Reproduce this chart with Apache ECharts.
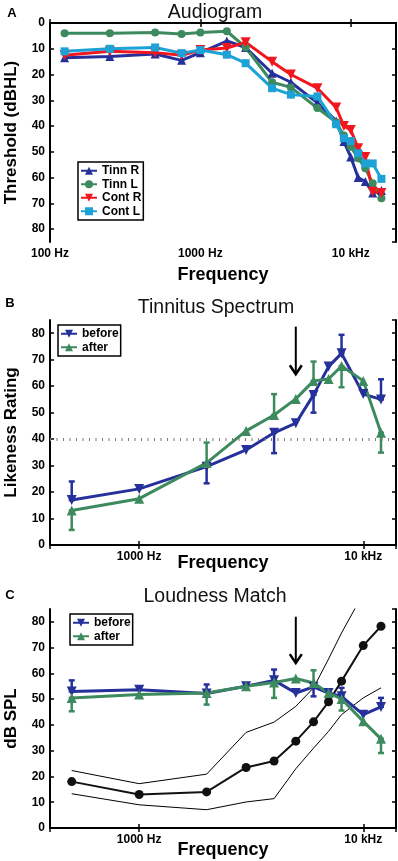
<!DOCTYPE html>
<html>
<head>
<meta charset="utf-8">
<script src="https://cdn.jsdelivr.net/npm/echarts@6/dist/echarts.min.js"></script>
<style>
html, body { margin: 0; padding: 0; background: #fff; }
#chart { width: 398px; height: 861px; }
</style>
</head>
<body>
<div id="chart"></div>
<script>
// --- panel A: audiogram (dB HL, 0 at top)
const audFreqs = [125, 250, 500, 750, 1000, 1500, 2000, 3000, 4000, 6000, 8000, 9000, 10000, 11200, 12500, 14000, 16000]
const tinnR = [13.5, 13, 12, 14.5, 11.5, 7, 9.5, 19.5, 23, 31, 38, 46, 52, 60, 61.5, 66, 65]
const tinnL = [4, 4, 3.7, 4.3, 3.7, 3.2, 9.5, 23, 25, 33, 38.5, 43.7, 48, 52.5, 56.4, 62.2, 68]
const contR = [12.5, 11, 11.5, 12.5, 10.5, 9.7, 7.5, 15, 20, 25.3, 32.8, 40, 41.5, 48.6, 52, 65.5, 66]
const contL = [11, 10, 9.5, 11.7, 10.5, 12.3, 15.6, 25.3, 27.8, 28.5, 39.3, 44.7, 45.8, 50.6, 54.5, 54.5, 60.5]

// --- panels B and C share the matching frequencies
const matchFreqs = [500, 1000, 2000, 3000, 4000, 5000, 6000, 7000, 8000, 10000, 12000]

// B: likeness rating
const specBefore = [17, 21.2, 29.6, 35.9, 42.4, 46, 56.7, 67.4, 72.4, 57, 55]
const specAfter = [13, 17.5, 31, 43.1, 49.1, 55.2, 62, 62.7, 67.6, 62, 42.4]
// error bars as [freq, low, high]
const specBeforeErr = [[500, 17, 24], [2000, 23.3, 29.6], [4000, 34.7, 42.4], [6000, 50, 56.7], [8000, 72.4, 79.4], [12000, 55, 62.6]]
const specAfterErr = [[500, 5.7, 13], [2000, 31, 38.7], [4000, 49.1, 57], [6000, 62, 69.3], [8000, 59.6, 67.6], [12000, 34.9, 42.4]]
const chanceLevel = 40

// C: loudness match (dB SPL)
const loudBefore = [53, 53.7, 52.2, 55, 57.3, 52.4, 54.8, 52.4, 51.1, 44, 47]
const loudAfter = [50.5, 51.8, 52.4, 55, 56.5, 58, 56.3, 52.4, 50.1, 41.4, 34.6]
const loudBeforeErr = [[500, 53, 57.3], [2000, 52.2, 55.7], [4000, 57.3, 61.5], [6000, 51.1, 54.8], [8000, 51.1, 54.4], [12000, 47, 50.5]]
const loudAfterErr = [[500, 45.3, 50.5], [2000, 47.9, 52.4], [4000, 50.5, 56.5], [6000, 56.3, 61.2], [8000, 45.6, 50.1], [12000, 29.1, 34.6]]
const threshold = [18, 13, 14, 23.5, 26, 33.7, 41.2, 49, 57, 70.8, 78.3]
const thresholdHi = [22.3, 17.2, 20.9, 37.1, 41.1, 47.2, 54.4, 65.6, 75.7, 91, null]
const thresholdLo = [13.3, 9, 7.1, 10.1, 11.4, 23, 31, 37.5, 44, 50.5, 54.4]

// arrow marking the tinnitus pitch: [freq, from, to]
const arrowB = [5000, 82.5, 64.5]
const arrowC = [5000, 82, 64]

// tick labels
const tickFreqs = [100, 1000, 10000]
const tickNames = ['100 Hz', '1000 Hz', '10 kHz']
const yTicks = [0, 10, 20, 30, 40, 50, 60, 70, 80]

const FONT = "'Liberation Sans', Arial, Helvetica, sans-serif"
const BLUE = '#25309b'
const GREEN = '#3d8a5e'
const RED = '#f2171f'
const CYAN = '#1ca2d6'

const chart = echarts.init(document.getElementById('chart'))

const zip = (xs, ys) => xs.map((x, i) => [x, ys[i]])

function freqLabel(v) {
    const i = tickFreqs.findIndex(f => Math.abs(v / f - 1) < 1e-6)
    return i < 0 ? '' : tickNames[i]
}

const grids = [
    { left: 50, top: 23, width: 346, height: 219 },
    { left: 50, top: 320, width: 346, height: 225 },
    { left: 50, top: 609, width: 346, height: 219 }
].map(g => ({ ...g, containLabel: false, outerBoundsMode: 'none' }))

const xRanges = [[100, 20000], [400, 14000], [400, 14000]]
const xNameGaps = [24, 9, 13]
const yNames = ['Threshold (dBHL)', 'Likeness Rating', 'dB SPL']

const xAxes = []
const yAxes = []
grids.forEach((g, i) => {
    const base = {
        type: 'log', logBase: 10, gridIndex: i,
        min: xRanges[i][0], max: xRanges[i][1],
        splitLine: { show: false },
        axisLine: { show: true, lineStyle: { color: '#000', width: 2 } },
        axisTick: { show: true, inside: true, length: 4, lineStyle: { color: '#000', width: 1.5 } }
    }
    xAxes.push({
        ...base,
        position: 'bottom',
        axisLabel: {
            formatter: freqLabel, color: '#000', fontWeight: 'bold', fontSize: 12,
            fontFamily: FONT, margin: 6, showMinLabel: true, showMaxLabel: false
        },
        name: 'Frequency', nameLocation: 'middle', nameGap: xNameGaps[i], nameMoveOverlap: false,
        nameTextStyle: { color: '#000', fontWeight: 'bold', fontSize: 18, fontFamily: FONT }
    })
    xAxes.push({ ...base, position: 'top', axisLabel: { show: false } })

    const ybase = {
        type: 'value', gridIndex: i, min: 0, max: 85, interval: 10,
        inverse: i === 0,
        splitLine: { show: false },
        axisLine: { show: true, lineStyle: { color: '#000', width: 2 } },
        axisTick: { show: true, inside: true, length: 4, lineStyle: { color: '#000', width: 1.5 } }
    }
    yAxes.push({
        ...ybase,
        position: 'left',
        axisLabel: {
            formatter: v => (yTicks.includes(v) ? String(v) : ''),
            color: '#000', fontWeight: 'bold', fontSize: 12, fontFamily: FONT, margin: 5,
            showMaxLabel: false
        },
        name: yNames[i], nameLocation: 'middle', nameGap: 30, nameRotate: 90, nameMoveOverlap: false,
        nameTextStyle: { color: '#000', fontWeight: 'bold', fontSize: 17, fontFamily: FONT }
    })
    yAxes.push({ ...ybase, position: 'right', axisLabel: { show: false } })
})

function lineSeries(name, panel, xs, ys, color, symbol, opts = {}) {
    return {
        type: 'line', name,
        xAxisIndex: panel * 2, yAxisIndex: panel * 2,
        data: zip(xs, ys),
        color,
        symbol, symbolSize: 9,
        lineStyle: { color, width: 3 },
        itemStyle: { color },
        ...opts
    }
}

// vertical error bars with small caps
function errSeries(panel, data, color) {
    return {
        type: 'custom', silent: true,
        xAxisIndex: panel * 2, yAxisIndex: panel * 2,
        data, encode: { x: 0, y: [1, 2] },
        z: 3,
        renderItem(params, api) {
            const lo = api.coord([api.value(0), api.value(1)])
            const hi = api.coord([api.value(0), api.value(2)])
            const w = 3
            const st = { stroke: color, lineWidth: 2.5 }
            return {
                type: 'group', children: [
                    { type: 'line', shape: { x1: lo[0], y1: lo[1], x2: hi[0], y2: hi[1] }, style: st },
                    { type: 'line', shape: { x1: lo[0] - w, y1: lo[1], x2: lo[0] + w, y2: lo[1] }, style: st },
                    { type: 'line', shape: { x1: hi[0] - w, y1: hi[1], x2: hi[0] + w, y2: hi[1] }, style: st }
                ]
            }
        }
    }
}

function arrowSeries(panel, arrow) {
    return {
        type: 'custom', silent: true,
        xAxisIndex: panel * 2, yAxisIndex: panel * 2,
        data: [arrow], encode: { x: 0, y: [1, 2] },
        z: 5,
        renderItem(params, api) {
            const a = api.coord([api.value(0), api.value(1)])
            const b = api.coord([api.value(0), api.value(2)])
            return {
                type: 'group', children: [
                    { type: 'line', shape: { x1: a[0], y1: a[1], x2: b[0], y2: b[1] - 1 }, style: { stroke: '#000', lineWidth: 2 } },
                    { type: 'polyline', shape: { points: [[b[0] - 6, b[1] - 9], [b[0], b[1]], [b[0] + 6, b[1] - 9]] },
                      style: { stroke: '#000', lineWidth: 2.5, fill: null } }
                ]
            }
        }
    }
}

const series = [
    // A
    lineSeries('Tinn R', 0, audFreqs, tinnR, BLUE, 'triangle', { symbolSize: 9 }),
    lineSeries('Tinn L', 0, audFreqs, tinnL, GREEN, 'circle', { symbolSize: 8 }),
    lineSeries('Cont R', 0, audFreqs, contR, RED, 'triangle', { symbolSize: 10, symbolRotate: 180 }),
    lineSeries('Cont L', 0, audFreqs, contL, CYAN, 'rect', { symbolSize: 8 }),
    // B
    lineSeries('before', 1, matchFreqs, specBefore, BLUE, 'triangle', {
        symbolSize: 10, symbolRotate: 180,
        markLine: {
            silent: true, symbol: ['none', 'none'], label: { show: false },
            lineStyle: { color: '#777', type: [1, 5.5], width: 3 },
            data: [{ yAxis: chanceLevel }]
        }
    }),
    errSeries(1, specBeforeErr, BLUE),
    lineSeries('after', 1, matchFreqs, specAfter, GREEN, 'triangle', { symbolSize: 10 }),
    errSeries(1, specAfterErr, GREEN),
    arrowSeries(1, arrowB),
    // C
    lineSeries('', 2, matchFreqs, thresholdHi, '#000', 'none', { lineStyle: { color: '#000', width: 1 } }),
    lineSeries('', 2, matchFreqs, thresholdLo, '#000', 'none', { lineStyle: { color: '#000', width: 1 } }),
    lineSeries('', 2, matchFreqs, threshold, '#111', 'circle', { symbolSize: 9, lineStyle: { color: '#111', width: 2 } }),
    lineSeries('before', 2, matchFreqs, loudBefore, BLUE, 'triangle', { symbolSize: 10, symbolRotate: 180 }),
    errSeries(2, loudBeforeErr, BLUE),
    lineSeries('after', 2, matchFreqs, loudAfter, GREEN, 'triangle', { symbolSize: 10 }),
    errSeries(2, loudAfterErr, GREEN),
    arrowSeries(2, arrowC)
]

const legendBase = {
    orient: 'vertical', selectedMode: false,
    backgroundColor: '#fff', borderColor: '#000', borderWidth: 1.5,
    padding: [2, 2, 2, 2], itemWidth: 16, itemHeight: 10, itemGap: 0,
    textStyle: { color: '#000', fontWeight: 'bold', fontSize: 12, fontFamily: FONT, lineHeight: 13.5 }
}

chart.setOption({
    animation: false,
    backgroundColor: '#fff',
    textStyle: { fontFamily: FONT },
    grid: grids,
    xAxis: xAxes,
    yAxis: yAxes,
    legend: [
        { ...legendBase, left: 78, top: 162, data: ['Tinn R', 'Tinn L', 'Cont R', 'Cont L'] },
        { ...legendBase, left: 58, top: 325, data: ['before', 'after'] },
        { ...legendBase, left: 70, top: 614, data: ['before', 'after'] }
    ],
    graphic: [
        { type: 'text', x: 215, y: 13, style: { text: 'Audiogram', font: '19.5px ' + FONT, fill: '#111', align: 'center', verticalAlign: 'middle' } },
        { type: 'text', x: 216, y: 308, style: { text: 'Tinnitus Spectrum', font: '19.5px ' + FONT, fill: '#111', align: 'center', verticalAlign: 'middle' } },
        { type: 'text', x: 215, y: 597, style: { text: 'Loudness Match', font: '19.5px ' + FONT, fill: '#111', align: 'center', verticalAlign: 'middle' } },
        { type: 'text', x: 12, y: 13, style: { text: 'A', font: 'bold 13px ' + FONT, fill: '#000', align: 'center', verticalAlign: 'middle' } },
        { type: 'text', x: 10, y: 303, style: { text: 'B', font: 'bold 13px ' + FONT, fill: '#000', align: 'center', verticalAlign: 'middle' } },
        { type: 'text', x: 10, y: 595, style: { text: 'C', font: 'bold 13px ' + FONT, fill: '#000', align: 'center', verticalAlign: 'middle' } }
    ],
    series
})

window.addEventListener('resize', () => chart.resize())
</script>
</body>
</html>
